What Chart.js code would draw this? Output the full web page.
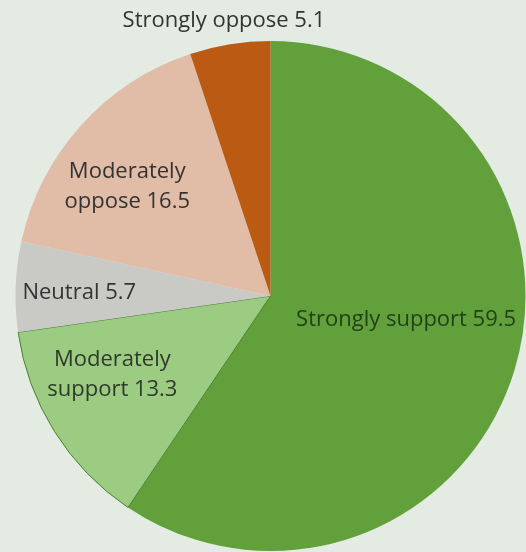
<!DOCTYPE html>
<html>
<head>
<meta charset="utf-8">
<script src="https://cdn.jsdelivr.net/npm/chart.js@4"></script>
<style>
  html, body { margin: 0; padding: 0; background: #e4ebe3; }
  #wrap { width: 526px; height: 552px; }
</style>
</head>
<body>
<div id="wrap"><canvas id="pieChart"></canvas></div>
<script>
const categories = ['Strongly support', 'Moderately support', 'Neutral', 'Moderately oppose', 'Strongly oppose'];
const values = [59.5, 13.3, 5.7, 16.5, 5.1];

const sliceColors = ['#62a03b', '#9ccb82', '#c9cac6', '#e1bca6', '#bb5a12'];
const sliceBorders = ['#62a03b', '#4d7d33', '#c9cac6', '#e1bca6', '#bb5a12'];
const sliceBorderWidth = [0, 1, 0, 0, 0];

// label placement: angle (deg, canvas) and distance (fraction of radius) from the centre
const labelAngle = [10.0, 153.5, 180.9, 217.4, 260.4];
const labelDist = [0.54, 0.693, 0.75, 0.707, 1.095];
const labelLines = [
  ['Strongly support 59.5'],
  ['Moderately', 'support 13.3'],
  ['Neutral 5.7'],
  ['Moderately', 'oppose 16.5'],
  ['Strongly oppose 5.1']
];
const labelColors = ['#22401a', '#2f3a2a', '#333333', '#333333', '#333333'];

const sliceLabels = {
  id: 'sliceLabels',
  afterDatasetsDraw(chart) {
    const ctx = chart.ctx;
    const arcs = chart.getDatasetMeta(0).data;
    ctx.save();
    ctx.font = '22px "Open Sans", sans-serif';
    ctx.textAlign = 'center';
    ctx.textBaseline = 'middle';
    arcs.forEach((arc, i) => {
      const a = labelAngle[i] * Math.PI / 180;
      const cx = arc.x + Math.cos(a) * arc.outerRadius * labelDist[i];
      const cy = arc.y + Math.sin(a) * arc.outerRadius * labelDist[i];
      const lines = labelLines[i];
      const lh = 30;
      ctx.fillStyle = labelColors[i];
      lines.forEach((t, j) => {
        ctx.fillText(t, cx, cy + (j - (lines.length - 1) / 2) * lh);
      });
    });
    ctx.restore();
  }
};

new Chart(document.getElementById('pieChart'), {
  type: 'pie',
  data: {
    labels: categories,
    datasets: [{
      data: values,
      backgroundColor: sliceColors,
      borderColor: sliceBorders,
      borderWidth: sliceBorderWidth
    }]
  },
  options: {
    responsive: true,
    maintainAspectRatio: false,
    animation: false,
    layout: { padding: { top: 40, left: 15, right: 0, bottom: 0 } },
    plugins: {
      legend: { display: false },
      tooltip: { enabled: false }
    }
  },
  plugins: [sliceLabels]
});
</script>
</body>
</html>
